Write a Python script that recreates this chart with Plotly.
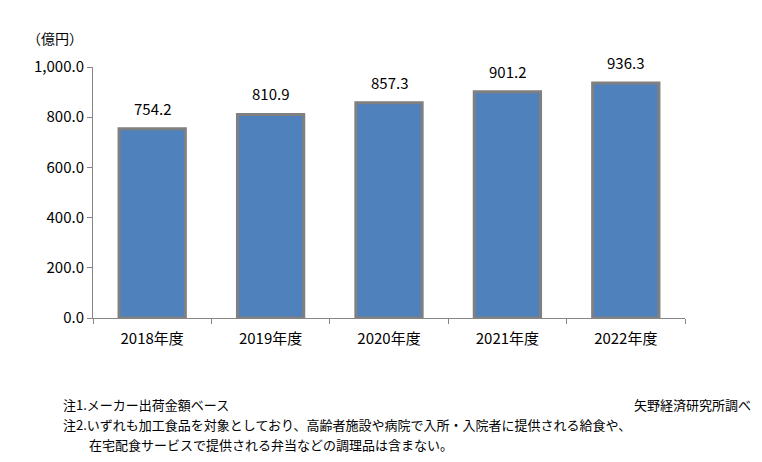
import plotly.graph_objects as go

years = ['2018年度', '2019年度', '2020年度', '2021年度', '2022年度']
values = [754.2, 810.9, 857.3, 901.2, 936.3]
y_ticks = [0, 200, 400, 600, 800, 1000]

font_jp = 'Noto Sans CJK JP'

# page body has an 8px margin, so the figure is 16px smaller than the window
fig = go.Figure()
fig.add_trace(go.Bar(
    x=years, y=values,
    marker=dict(color='#4F81BD', line=dict(color='#808080', width=3)),
    width=0.56,
))
for yr, v in zip(years, values):
    fig.add_annotation(x=yr, y=v, text=f'{v:.1f}', showarrow=False,
                       yanchor='bottom', yshift=8, font=dict(size=15))

fig.update_layout(
    width=746, height=446,
    margin=dict(l=85, r=69, t=59, b=136),
    plot_bgcolor='white', paper_bgcolor='white',
    font=dict(family=font_jp, size=14, color='#000000'),
    showlegend=False,
)
fig.update_xaxes(
    type='category', tickson='boundaries', ticks='outside', ticklen=5,
    tickcolor='#868686', showline=True, linecolor='#868686', linewidth=1,
    showgrid=False, tickfont=dict(size=15), ticklabelstandoff=7,
)
fig.update_yaxes(
    range=[0, 1000], tickvals=y_ticks, tickformat=',.1f',
    ticks='outside', ticklen=5, tickcolor='#868686',
    showline=True, linecolor='#868686', linewidth=1,
    showgrid=False, zeroline=False, tickfont=dict(size=15),
)

fig.add_annotation(text='（億円）', xref='paper', yref='paper',
                   x=(55 - 93) / 592, y=(318 - 38) / 251,
                   xanchor='center', yanchor='middle', showarrow=False, font=dict(size=14))
notes = [
    ('注1.メーカー出荷金額ベース', 62, 404),
    ('注2.いずれも加工食品を対象としており、高齢者施設や病院で入所・入院者に提供される給食や、', 62, 424),
    ('在宅配食サービスで提供される弁当などの調理品は含まない。', 88, 444),
]
for txt, px_x, px_y in notes:
    fig.add_annotation(text=txt, xref='paper', yref='paper',
                       x=(px_x - 93) / 592, y=(318 - px_y) / 251,
                       xanchor='left', yanchor='middle', showarrow=False,
                       borderpad=0, font=dict(size=13))
fig.add_annotation(text='矢野経済研究所調べ', xref='paper', yref='paper',
                   x=(752 - 93) / 592, y=(318 - 404) / 251,
                   xanchor='right', yanchor='middle', showarrow=False,
                   borderpad=0, font=dict(size=13))

fig.write_html('out.html')
